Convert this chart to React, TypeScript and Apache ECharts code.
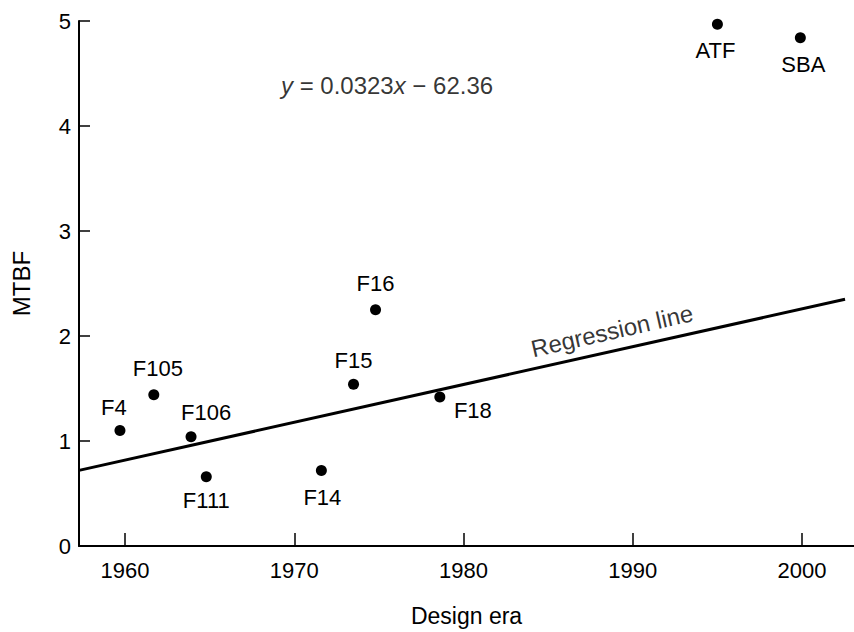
import React, { useEffect, useRef } from "react";
import * as echarts from "echarts";

// ---- data ----
const aircraft = ["F4", "F105", "F106", "F111", "F14", "F15", "F16", "F18", "ATF", "SBA"];
const designYear = [1959.7, 1961.7, 1963.9, 1964.8, 1971.6, 1973.5, 1974.8, 1978.6, 1995.0, 1999.9];
const mtbfValue = [1.10, 1.44, 1.04, 0.66, 0.72, 1.54, 2.25, 1.42, 4.97, 4.84];

// regression line  y = 0.0323x - 62.36 (as drawn in the figure)
const regressionYears = [1957.28, 2002.54];
const regressionMtbf = [0.72, 2.35];

const xTickValues = [1960, 1970, 1980, 1990, 2000];
const yTickValues = [0, 1, 2, 3, 4, 5];

// annotation anchors (data coordinates)
const equationAnchor = [1975.48, 4.39];
const regressionLabelAnchor = [1988.77, 2.05];

// label offsets (pixels, centre of text relative to the dot)
const labelOffsets: number[][] = [
  [-6, -23], [4, -26], [15, -24], [0, 24], [1, 27],
  [0, -24], [0, -26], [33, 14], [-2, 26], [3, 27],
];

const FONT = '"Liberation Sans", Arial, sans-serif';

export default function App() {
  const ref = useRef<HTMLDivElement>(null);
  useEffect(() => {
    if (!ref.current) return;
    const chart = echarts.init(ref.current, null, { renderer: "svg" });
    const points = aircraft.map((name, i) => ({
      name,
      value: [designYear[i], mtbfValue[i]],
      label: { offset: labelOffsets[i] },
    }));
    chart.setOption({
      animation: false,
      backgroundColor: "#fff",
      grid: { left: 79, right: 0, top: 21, bottom: 79 },
      xAxis: {
        type: "value",
        min: 1957.28,
        max: 2003.07,
        axisLine: { show: true, onZero: false, lineStyle: { color: "#000", width: 2 } },
        axisTick: { show: true, inside: true, length: 13, customValues: xTickValues, lineStyle: { color: "#000", width: 1.5 } },
        axisLabel: {
          customValues: xTickValues,
          formatter: (v: number) => String(v),
          color: "#000",
          fontFamily: FONT,
          fontSize: 22,
          margin: 13,
        },
        splitLine: { show: false },
        name: "Design era",
        nameLocation: "middle",
        nameGap: 58,
        nameTextStyle: { color: "#000", fontFamily: FONT, fontSize: 23 },
      },
      yAxis: {
        type: "value",
        min: 0,
        max: 5,
        interval: 1,
        axisLine: { show: true, lineStyle: { color: "#000", width: 2 } },
        axisTick: { show: true, inside: true, length: 11, customValues: yTickValues, lineStyle: { color: "#000", width: 1.5 } },
        axisLabel: { customValues: yTickValues, color: "#000", fontFamily: FONT, fontSize: 22, margin: 8 },
        splitLine: { show: false },
        name: "MTBF",
        nameLocation: "middle",
        nameGap: 46,
        nameRotate: 90,
        nameTextStyle: { color: "#000", fontFamily: FONT, fontSize: 24 },
      },
      series: [
        {
          type: "line",
          data: regressionYears.map((x, i) => [x, regressionMtbf[i]]),
          symbol: "none",
          lineStyle: { color: "#000", width: 3 },
          silent: true,
        },
        {
          type: "scatter",
          data: points,
          symbol: "circle",
          symbolSize: 11,
          itemStyle: { color: "#000", opacity: 1 },
          label: {
            show: true,
            position: "inside",
            formatter: "{b}",
            color: "#000",
            fontFamily: FONT,
            fontSize: 22,
            align: "center",
            verticalAlign: "middle",
          },
        },
        {
          type: "scatter",
          symbolSize: 0,
          silent: true,
          data: [
            {
              name: "equation",
              value: equationAnchor,
              label: {
                show: true,
                position: "inside",
                formatter: "{i|y} = 0.0323{i|x} \u2212 62.36",
                color: "#000",
                fontFamily: FONT,
                fontSize: 24,
                rich: { i: { fontStyle: "italic", fontFamily: FONT, fontSize: 24, color: "#000" } },
              },
            },
            {
              name: "Regression line",
              value: regressionLabelAnchor,
              label: {
                show: true,
                position: "inside",
                formatter: "{b}",
                rotate: 12.8,
                color: "#000",
                fontFamily: FONT,
                fontSize: 24,
              },
            },
          ],
        },
      ],
    });
    return () => chart.dispose();
  }, []);
  return (
    <div
      ref={ref}
      style={{ position: "fixed", left: 0, top: 0, width: 854, height: 632, background: "#fff" }}
    />
  );
}
